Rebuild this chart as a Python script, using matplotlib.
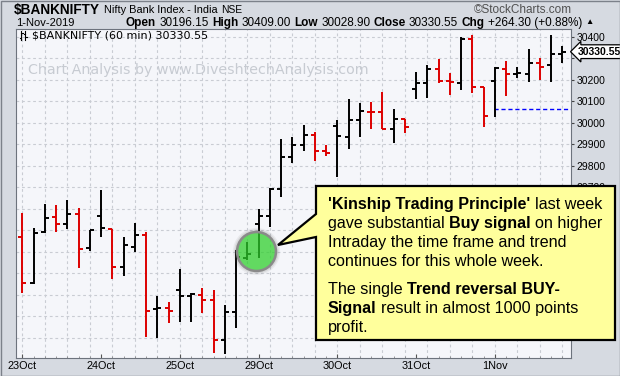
import matplotlib
matplotlib.use("Agg")
import matplotlib.pyplot as plt
from matplotlib.patches import Polygon, Rectangle

# hourly OHLC bars, 7 per session
days = ["23Oct", "24Oct", "25Oct", "29Oct", "30Oct", "31Oct", "1Nov"]
bars_per_day = 7

opens = [29470, 29253, 29490, 29560, 29527, 29575, 29416,
         29566, 29504, 29328, 29423, 29478, 29132, 29140,
         29222, 29194, 29199, 29175, 28989, 29121, 29369,
         29529, 29566, 29690, 29839, 29896, 29943, 29868,
         29985, 29932, 30013, 30052, 30052, 29969, 30016,
         30155, 30186, 30248, 30195, 30186, 30388, 30165,
         30196.15, 30248, 30226, 30226, 30276, 30268, 30320]
highs = [29579, 29509, 29622, 29617, 29640, 29602, 29501,
         29687, 29504, 29467, 29532, 29493, 29195, 29168,
         29318, 29207, 29230, 29222, 29152, 29408, 29447,
         29597, 29695, 29923, 29935, 29989, 29958, 29896,
         30013, 30109, 30093, 30098, 30141, 30062, 30016,
         30237, 30268, 30295, 30233, 30400, 30408, 30167,
         30260, 30287, 30260, 30341, 30300, 30409, 30357]
lows = [29209, 29248, 29486, 29490, 29506, 29326, 29405,
        29467, 29272, 29288, 29400, 29005, 28997, 29067,
        29074, 29074, 29116, 28930, 28924, 29044, 29361,
        29371, 29514, 29656, 29811, 29870, 29822, 29845,
        29749, 29876, 29935, 29969, 29969, 29907, 29951,
        30109, 30116, 30183, 30129, 30152, 30137, 29981,
        30028.9, 30124, 30206, 30191, 30199, 30191, 30279]
closes = [29253, 29486, 29555, 29529, 29575, 29411, 29501,
          29509, 29328, 29431, 29478, 29126, 29137, 29126,
          29194, 29202, 29175, 28989, 29121, 29377, 29389,
          29566, 29690, 29839, 29896, 29943, 29868, 29858,
          29938, 30013, 30054, 30048, 29969, 30016, 29981,
          30186, 30248, 30195, 30191, 30388, 30165, 30031,
          30256, 30228, 30232, 30276, 30260, 30318, 30330.55]

prev_close = 30066.25
last_close = 30330.55
y_ticks = list(range(29000, 30401, 100))

# where the buy signal was marked (bar position, price)
signal_x, signal_y = 20.8, 29402

BLACK = "#000000"
RED = "#dd0000"
SANS = ["Liberation Sans", "DejaVu Sans"]

fig = plt.figure(figsize=(6.2, 3.76), dpi=100)
fig.patch.set_facecolor("#d6dae1")

ax = fig.add_axes([16 / 620, 18 / 376, 555 / 620, 329 / 376])
ax.set_facecolor("#f5f6fa")

xs = list(range(len(closes)))
colors = []
for i, c in enumerate(closes):
    ref = opens[0] if i == 0 else closes[i - 1]
    colors.append(BLACK if c >= ref else RED)

tick = 0.36
ax.vlines(xs, lows, highs, colors=colors, lw=1.4, zorder=3)
ax.hlines(opens, [x - tick for x in xs], xs, colors=colors, lw=1.4, zorder=3)
ax.hlines(closes, xs, [x + tick for x in xs], colors=colors, lw=1.4, zorder=3)

# previous session close
ax.hlines(prev_close, 41.9, 48.77, colors="#0000ff", lw=1, linestyles=(0, (3, 2)), zorder=2)

ax.set_xlim(-0.56, 48.77)
ax.set_ylim(28906, 30436)

# grid
for y in [28900] + y_ticks:
    ax.axhline(y, color="#c9ccd3", lw=0.8, ls=(0, (2.5, 2.5)), zorder=1)
for x in range(0, len(closes), 2):
    ax.axvline(x, color="#c9ccd3", lw=0.8, ls=(0, (2.5, 2.5)), zorder=1)

ax.set_xticks([d * bars_per_day for d in range(len(days))])
ax.set_xticklabels(days, fontsize=7.8, family=SANS)
ax.set_xticks(xs, minor=True)
ax.tick_params(axis="x", which="major", length=3, direction="in", pad=2, color="#555555")
ax.tick_params(axis="x", which="minor", length=1.5, direction="in", color="#888888")
ax.yaxis.tick_right()
ax.set_yticks(y_ticks)
# labels under the price tag and under the callout box are hidden
ax.set_yticklabels(["" if abs(v - last_close) < 50 or v < 29700 else str(v) for v in y_ticks],
                   fontsize=7.5, family=SANS)
ax.tick_params(axis="y", length=2.5, pad=1.5, color="#444444")
for s in ax.spines.values():
    s.set_color("#6d737d")
    s.set_linewidth(0.8)

# circle marking the signal
for k, a in [(34, 0.08), (32, 0.12), (30, 0.18)]:
    ax.plot(signal_x, signal_y, "o", ms=k, mfc="#606060", mec="none", alpha=a, zorder=4)
ax.plot(signal_x, signal_y, "o", ms=28, mfc=(35 / 255, 233 / 255, 32 / 255, 0.6),
        mec="#8a8a8a", mew=1.8, zorder=5)

# current price tag
ax.annotate(f"{last_close:.2f}", xy=(1, last_close), xycoords=("axes fraction", "data"),
            xytext=(5, 0), textcoords="offset points", va="center", ha="left",
            fontsize=7.5, fontweight="bold", family=SANS, annotation_clip=False,
            bbox=dict(boxstyle="larrow,pad=0.18", fc="white", ec="black", lw=0.9), zorder=6)

# overlay in pixel coordinates for header and callout
ov = fig.add_axes([0, 0, 1, 1], zorder=10)
ov.set_xlim(0, 620)
ov.set_ylim(376, 0)
ov.axis("off")


def runs_line(x, y, runs, size, family, color="black"):
    gap = 0.278 * size
    t = ov.text(x, y, runs[0][0], fontsize=size, fontweight=runs[0][1],
                va="center", ha="left", family=family, color=color)
    for s, w, *sz in runs[1:]:
        t = ov.annotate(s, xy=(1, 0.5), xycoords=t, xytext=(gap, 0), textcoords="offset points",
                        fontsize=sz[0] if sz else size, fontweight=w, va="center", ha="left",
                        family=family, color=color)
    return t


runs_line(14, 10, [("$BANKNIFTY", "bold"), ("Nifty Bank Index - India", "normal", 7.9),
                   ("NSE", "normal", 7.4)], 9.8, SANS)
ov.text(572, 10, "\u00a9StockCharts.com", fontsize=8.5, ha="right", va="center",
        family=SANS, color="#505050")
ov.text(16, 23, "1-Nov-2019", fontsize=8, ha="left", va="center", family=SANS)
runs_line(126, 23, [("Open", "bold"), ("30196.15", "normal"), ("High", "bold"),
                    ("30409.00", "normal"), ("Low", "bold"), ("30028.90", "normal"),
                    ("Close", "bold"), ("30330.55", "normal"), ("Chg", "bold"),
                    ("+264.30 (+0.88%)", "normal"), ("\u25b2", "normal", 6)], 8.5, SANS)

# legend inside plot
for px in (21, 25):
    ov.plot([px, px], [31, 40], color="black", lw=0.8)
ov.plot([19.5, 21], [38, 38], color="black", lw=0.8)
ov.plot([21, 22.5], [33, 33], color="black", lw=0.8)
ov.plot([23.5, 25], [34, 34], color="black", lw=0.8)
ov.plot([25, 26.5], [37, 37], color="black", lw=0.8)
ov.text(32, 35.5, "$BANKNIFTY (60 min) 30330.55", fontsize=8, va="center", ha="left",
        family="DejaVu Sans")

ov.text(28, 70, "Chart Analysis by www.DiveshtechAnalysis.com", fontsize=10.3,
        va="center", ha="left", family="DejaVu Sans", color="#c7cbd2")

# callout
call = Polygon([(316, 186), (615, 186), (615, 340), (316, 340), (316, 237),
                (278, 245), (316, 214)], closed=True, fc="#ffff9c", ec="black", lw=1.6)
ov.add_patch(call)
lines = [
    (204.5, [("'Kinship Trading Principle'", "bold"), ("last week", "normal")]),
    (223.5, [("gave substantial", "normal"), ("Buy signal", "bold"), ("on higher", "normal")]),
    (242.5, [("Intraday the time frame and trend", "normal")]),
    (261.5, [("continues for this whole week.", "normal")]),
    (289.5, [("The single", "normal"), ("Trend reversal BUY-", "bold")]),
    (308.5, [("Signal", "bold"), ("result in almost 1000 points", "normal")]),
    (327.5, [("profit.", "normal")]),
]
for y, runs in lines:
    runs_line(328, y, runs, 11.6, SANS)

ov.add_patch(Rectangle((0.5, 0.5), 619, 375, fc="none", ec="#7c818a", lw=1))

fig.savefig("out.png", dpi=100, facecolor=fig.get_facecolor())
